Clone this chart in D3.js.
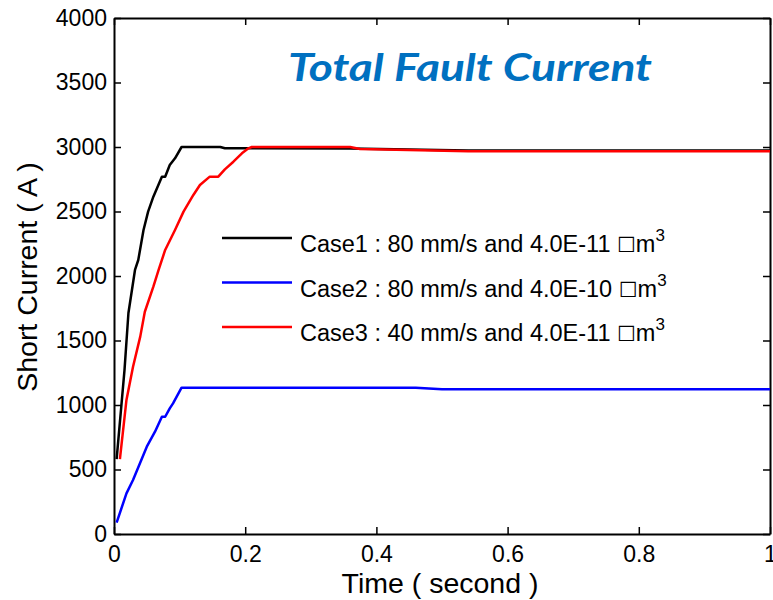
<!DOCTYPE html>
<html>
<head>
<meta charset="utf-8">
<script src="https://cdn.jsdelivr.net/npm/d3@7"></script>
<style>
  body { margin: 0; background: #fff; }
  svg text { font-family: "Liberation Sans", Arial, sans-serif; }
</style>
</head>
<body>
<svg id="chart" width="773" height="600"></svg>
<script>
// values (time in seconds, current in A)
const case1Time = [0.004, 0.012, 0.016, 0.022, 0.032, 0.037, 0.045, 0.052, 0.060, 0.073, 0.078, 0.085, 0.093, 0.103, 0.162, 0.169, 0.36, 0.54, 1.0];
const case1Amp  = [580, 1039, 1271, 1713, 2047, 2124, 2357, 2499, 2615, 2770, 2770, 2860, 2912, 3000, 3000, 2990, 2988, 2972, 2972];

const case2Time = [0.004, 0.019, 0.029, 0.050, 0.0625, 0.073, 0.078, 0.085, 0.090, 0.103, 0.46, 0.50, 1.0];
const case2Amp  = [88, 315, 419, 677, 793, 909, 909, 974, 1013, 1134, 1134, 1122, 1122];

const case3Time = [0.009, 0.019, 0.029, 0.040, 0.047, 0.060, 0.068, 0.078, 0.093, 0.106, 0.121, 0.131, 0.146, 0.159, 0.169, 0.182, 0.195, 0.205, 0.21, 0.36, 0.375, 0.54, 1.0];
const case3Amp  = [580, 1039, 1297, 1530, 1723, 1917, 2047, 2202, 2357, 2499, 2628, 2705, 2770, 2770, 2827, 2886, 2951, 2990, 3000, 3000, 2985, 2968, 2968];

const seriesNames = ["Case1 : 80 mm/s and 4.0E-11 ", "Case2 : 80 mm/s and 4.0E-10 ", "Case3 : 40 mm/s and 4.0E-11 "];
const seriesColors = ["#000000", "#0000ff", "#ff0000"];

const xTicks = [0, 0.2, 0.4, 0.6, 0.8, 1];
const yTicks = [0, 500, 1000, 1500, 2000, 2500, 3000, 3500, 4000];

const LEFT = 114, RIGHT = 770, TOP = 18, BOTTOM = 534;

const svg = d3.select("#chart");

const x = d3.scaleLinear().domain([0, 1]).range([LEFT, RIGHT]);
const y = d3.scaleLinear().domain([0, 4000]).range([BOTTOM, TOP]);

// axes, MATLAB style box with inward ticks
function styleAxis(g) {
    g.selectAll("path").attr("stroke", "#000").attr("stroke-width", 2);
    g.selectAll("line").attr("stroke", "#000").attr("stroke-width", 1.5);
    g.selectAll("text").attr("fill", "#000").style("font-size", "23px");
}

svg.append("g")
    .attr("transform", `translate(0,${BOTTOM})`)
    .call(d3.axisBottom(x).tickValues(xTicks).tickFormat(d => String(d)).tickSize(-7).tickSizeOuter(0).tickPadding(12))
    .call(styleAxis);

svg.append("g")
    .attr("transform", `translate(${LEFT},0)`)
    .call(d3.axisLeft(y).tickValues(yTicks).tickFormat(d => String(d)).tickSize(-7).tickSizeOuter(0).tickPadding(7))
    .call(styleAxis);

svg.append("g")
    .attr("transform", `translate(0,${TOP})`)
    .call(d3.axisTop(x).tickValues(xTicks).tickFormat("").tickSize(-7).tickSizeOuter(0))
    .call(styleAxis);

svg.append("g")
    .attr("transform", `translate(${RIGHT},0)`)
    .call(d3.axisRight(y).tickValues(yTicks).tickFormat("").tickSize(-7).tickSizeOuter(0))
    .call(styleAxis);

// lines
const series = [
    d3.zip(case1Time, case1Amp),
    d3.zip(case2Time, case2Amp),
    d3.zip(case3Time, case3Amp)
];

const line = d3.line()
    .x(d => x(d[0]))
    .y(d => y(d[1]));

svg.append("g")
    .selectAll("path")
    .data(series)
    .enter()
    .append("path")
    .attr("d", line)
    .attr("fill", "none")
    .attr("stroke", (d, i) => seriesColors[i])
    .attr("stroke-width", 2.5)
    .attr("stroke-linejoin", "round");

// legend
const legend = svg.append("g")
    .selectAll(".item")
    .data(seriesNames)
    .enter()
    .append("g")
    .attr("class", "item")
    .attr("transform", (d, i) => `translate(0,${238 + i * 44.5})`);

legend.append("line")
    .attr("x1", 222)
    .attr("x2", 292)
    .attr("stroke", (d, i) => seriesColors[i])
    .attr("stroke-width", 2.5);

const label = legend.append("text")
    .attr("x", 300)
    .attr("y", 14)
    .style("font-size", "23.5px")
    .attr("fill", "#000");
label.append("tspan").text(d => d);
label.append("tspan")
    .style("font-family", "'DejaVu Sans'")
    .style("font-size", "21px")
    .text("\u2610");
label.append("tspan").text("m");
label.append("tspan")
    .attr("dy", -11)
    .style("font-size", "17px")
    .text("3");

// title
svg.append("text")
    .attr("x", 288)
    .attr("y", 81)
    .attr("textLength", 364)
    .attr("lengthAdjust", "spacingAndGlyphs")
    .style("font-family", "Lato, 'Open Sans', sans-serif")
    .style("font-weight", "bold")
    .style("font-style", "italic")
    .style("font-size", "38px")
    .attr("fill", "#0070c0")
    .text("Total Fault Current");

// axis titles
svg.append("text")
    .attr("x", 440)
    .attr("y", 593)
    .attr("text-anchor", "middle")
    .style("font-size", "28.5px")
    .text("Time ( second )");

svg.append("text")
    .attr("transform", "translate(37,277) rotate(-90)")
    .attr("text-anchor", "middle")
    .style("font-size", "28.5px")
    .text("Short Current ( A )");
</script>
</body>
</html>
